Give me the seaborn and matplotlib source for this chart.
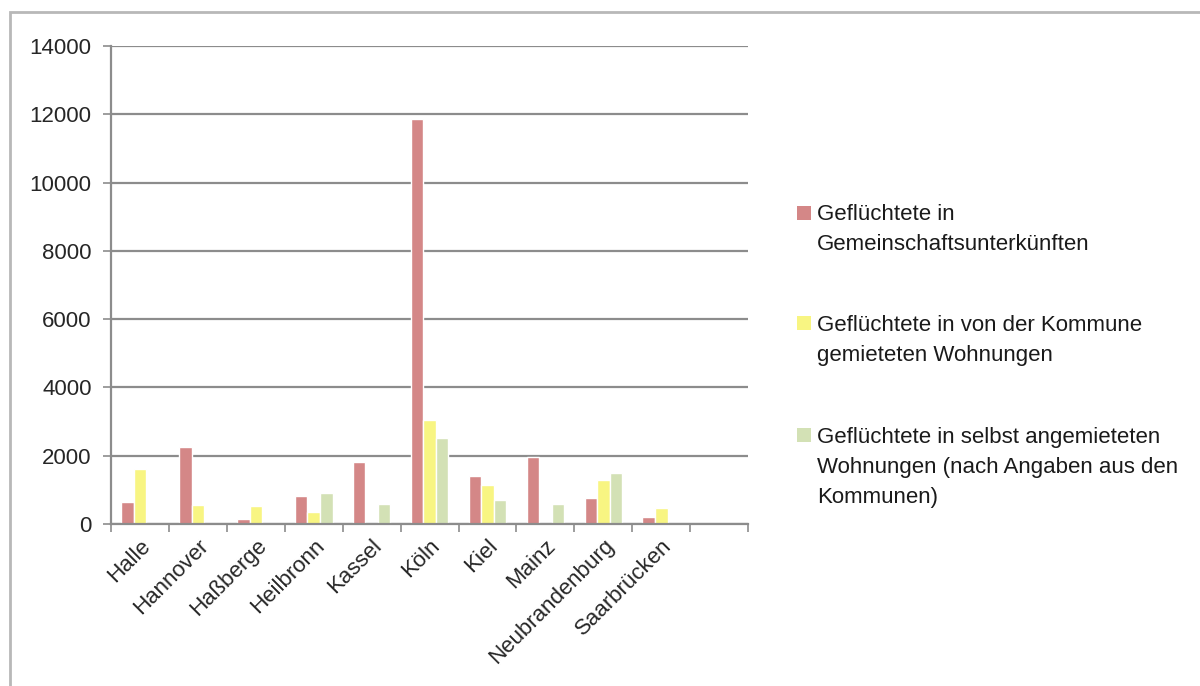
import numpy as np
import pandas as pd
import seaborn as sns
import matplotlib.pyplot as plt

# Daten
staedte = ['Halle', 'Hannover', 'Haßberge', 'Heilbronn', 'Kassel', 'Köln',
           'Kiel', 'Mainz', 'Neubrandenburg', 'Saarbrücken']
gemeinschaft = [650, 2250, 160, 820, 1830, 11850, 1420, 1960, 750, 220]
kommune = [1610, 570, 530, 340, 0, 3060, 1150, 0, 1300, 470]
selbst = [0, 0, 0, 900, 600, 2510, 700, 600, 1500, 0]

serien = ['Geflüchtete in\nGemeinschaftsunterkünften',
          'Geflüchtete in von der Kommune\ngemieteten Wohnungen',
          'Geflüchtete in selbst angemieteten\nWohnungen (nach Angaben aus den\nKommunen)']
farben = ['#d48787', '#f8f582', '#d3e1b5']

df = pd.DataFrame({'Stadt': staedte * 3,
                   'Serie': np.repeat(serien, len(staedte)),
                   'Wert': gemeinschaft + kommune + selbst})
df = df[df['Wert'] > 0]

sns.set_style('white')
plt.rcParams['font.family'] = ['Liberation Sans', 'DejaVu Sans']

W, H = 1200, 686
fig = plt.figure(figsize=(12, 6.86), dpi=100)
ax = fig.add_axes([0.0925, 0.236, 0.531, 0.697])

ordnung = staedte + [' ']
sns.barplot(data=df, x='Stadt', y='Wert', hue='Serie', order=ordnung,
            hue_order=serien, palette=farben, width=0.65, saturation=1,
            legend=False, ax=ax)

grau = '#8c8c8c'
ax.set_ylim(0, 14000)
ax.set_xlim(-0.5, len(ordnung) - 0.5)
ax.set_yticks(range(0, 14001, 2000))
ax.yaxis.grid(True, color=grau, linewidth=1.6)
ax.set_axisbelow(True)
ax.set_xlabel('')
ax.set_ylabel('')
for s in ['top', 'right']:
    ax.spines[s].set_visible(False)
for s in ['left', 'bottom']:
    ax.spines[s].set_color(grau)
    ax.spines[s].set_linewidth(1.6)

ax.tick_params(axis='y', length=6, width=1.2, color=grau, direction='out',
               labelsize=16, pad=8, left=True)
ax.set_xticks(range(len(ordnung)))
ax.set_xticklabels(ordnung, rotation=45, ha='right', va='top',
                   rotation_mode='anchor', fontsize=16)
ax.tick_params(axis='x', length=0, pad=8)
ax.set_xticks(np.arange(-0.5, len(ordnung), 1), minor=True)
ax.tick_params(axis='x', which='minor', length=6, width=1.2, color=grau,
               direction='out', bottom=True)

# Legende von Hand: Kästchen auf Höhe der ersten Zeile
start_y = [213, 323, 435]
zeilen_abstand = 30
for label, farbe, y0 in zip(serien, farben, start_y):
    fig.add_artist(plt.Rectangle((797 / W, 1 - (y0 + 7) / H), 14 / W, 14 / H,
                                 transform=fig.transFigure,
                                 facecolor=farbe, edgecolor='none'))
    for i, zeile in enumerate(label.split('\n')):
        yb = y0 + i * zeilen_abstand + 7.5
        fig.text(817 / W, 1 - yb / H, zeile, fontsize=16, va='baseline',
                 ha='left', color='#1a1a1a')

# Rahmen
rahmen = plt.Rectangle((10 / W, -0.1), 1.2, 1 - 12 / H + 0.1,
                       transform=fig.transFigure, fill=False,
                       edgecolor='#b8b8b8', linewidth=2)
fig.add_artist(rahmen)

fig.savefig('out.png', dpi=100)
